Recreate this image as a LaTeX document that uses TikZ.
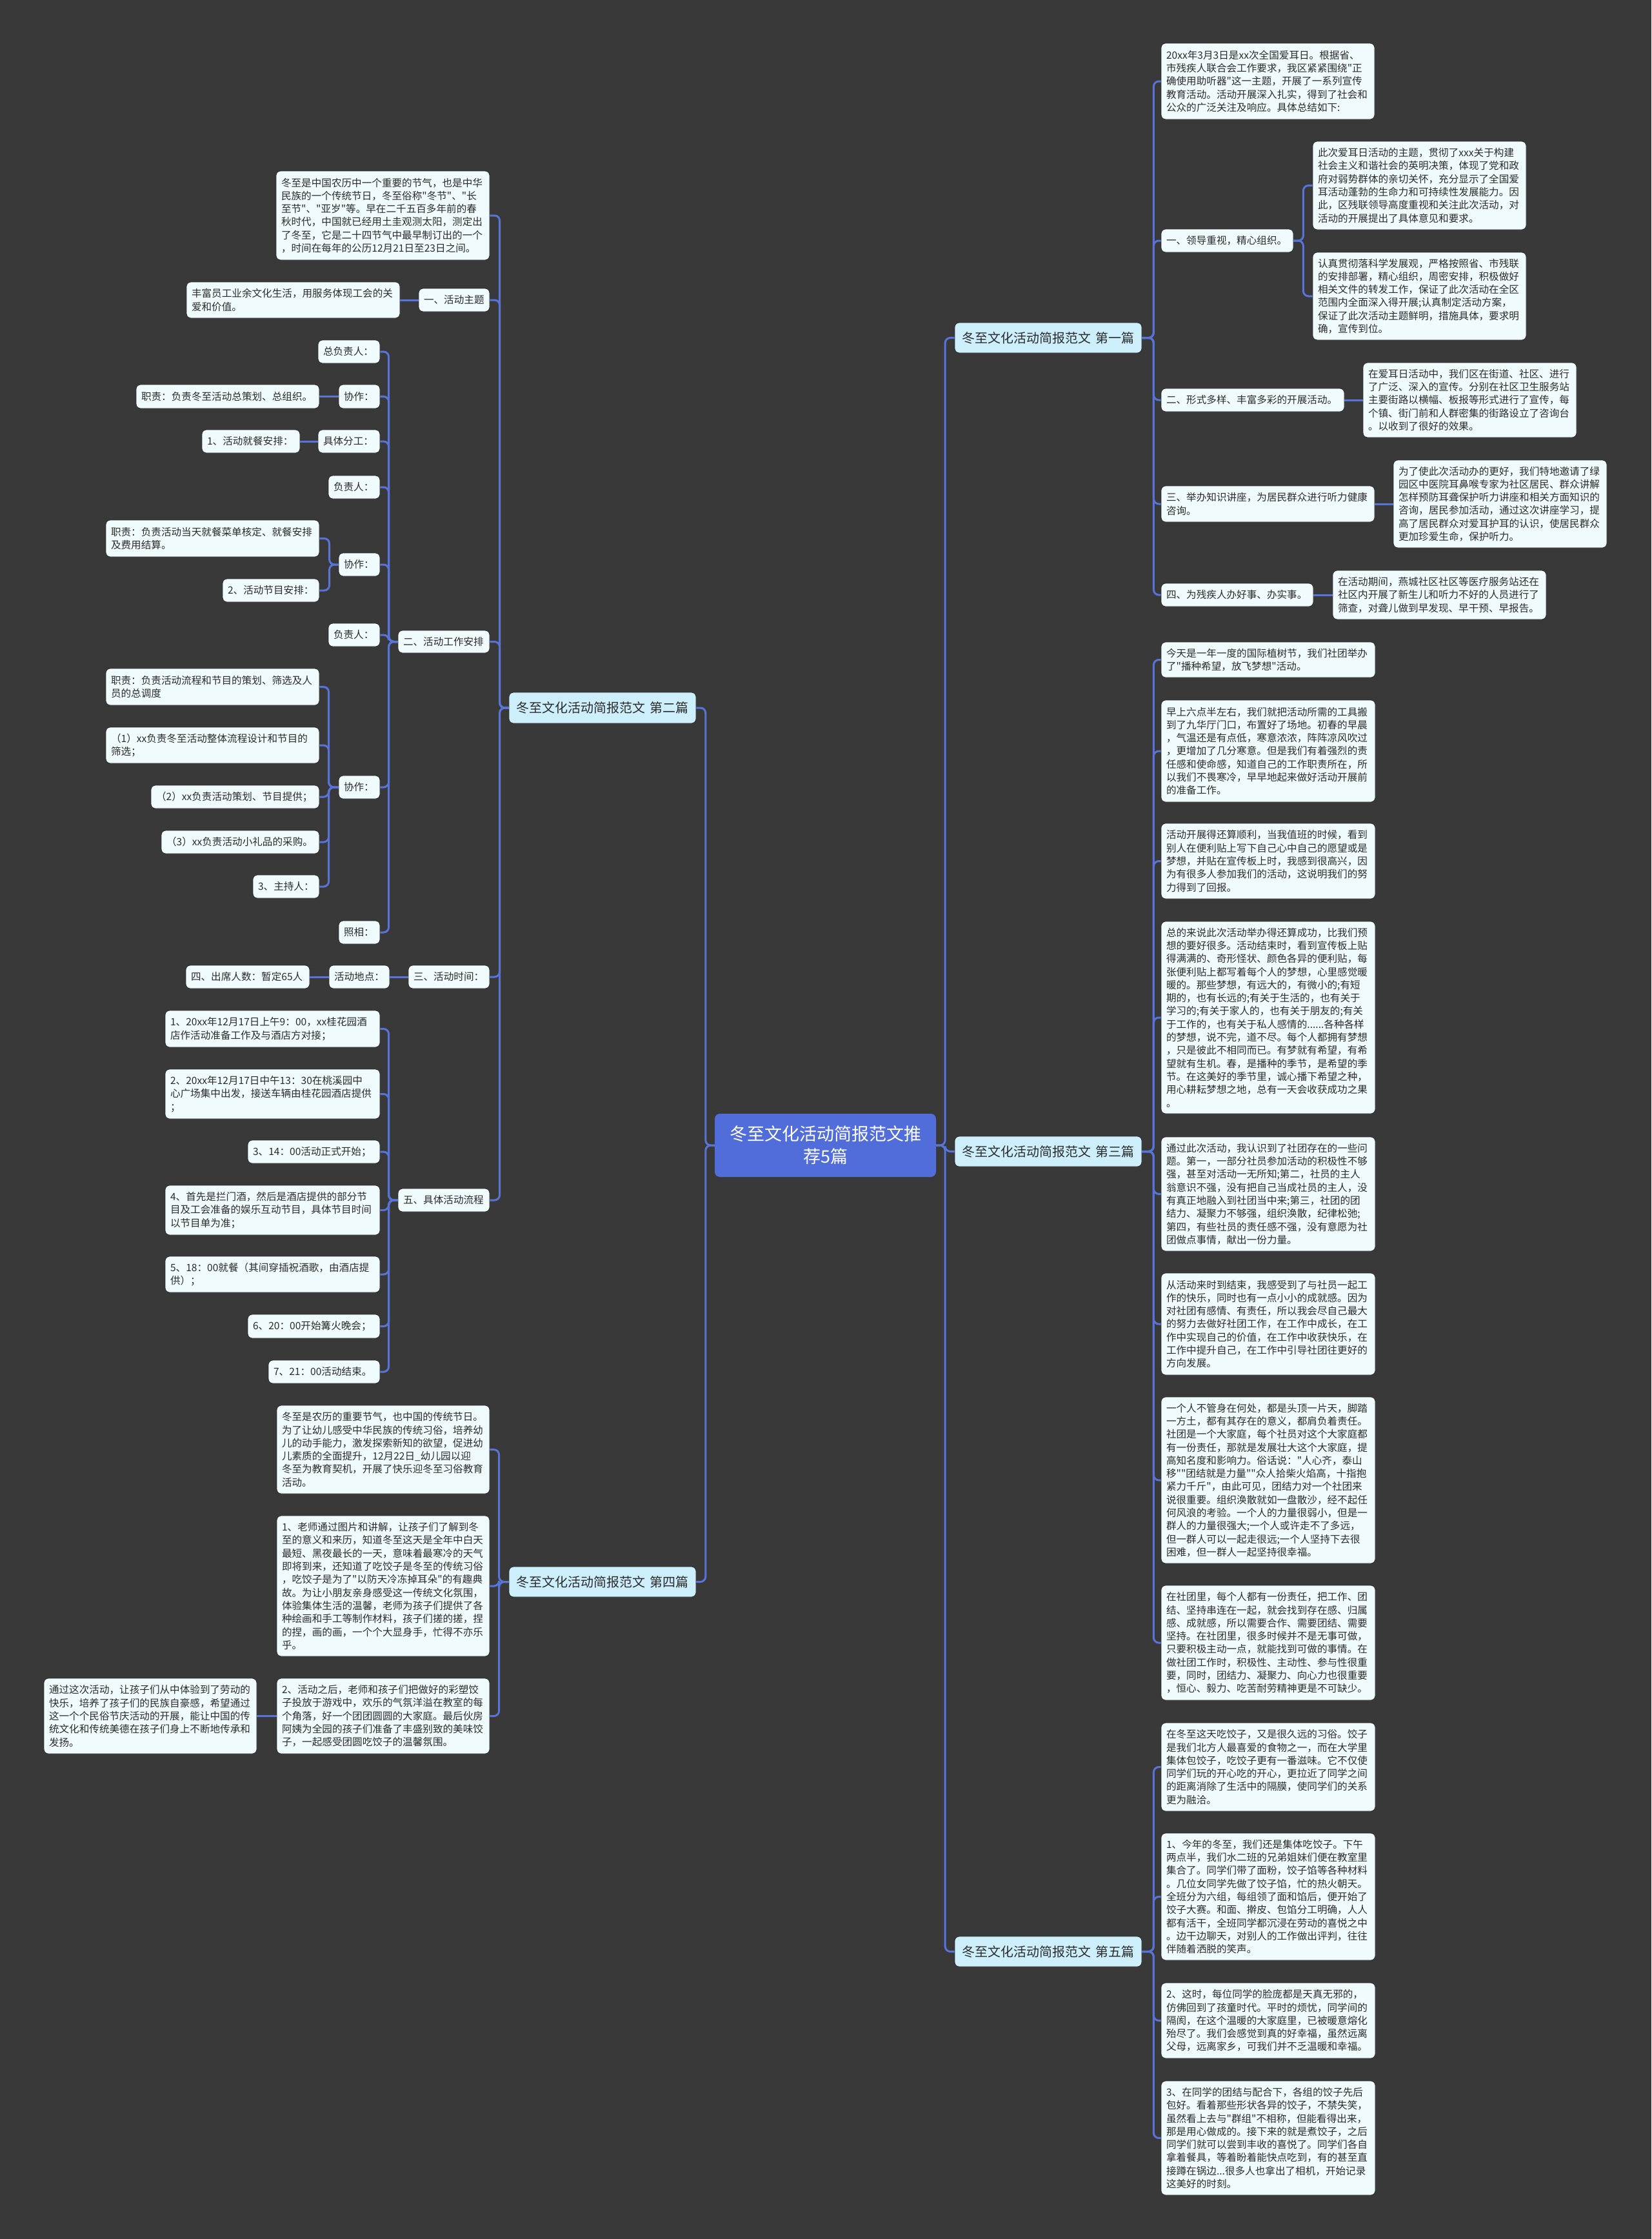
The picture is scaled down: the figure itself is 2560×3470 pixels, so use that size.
\documentclass[tikz,border=0pt]{standalone}
\usepackage{fontspec}
\setmainfont{Noto Sans CJK SC}[Ligatures=TeXOff]
\definecolor{bgc}{HTML}{3A3939}
\definecolor{nodefill}{HTML}{F0FBFE}
\definecolor{nodeedge}{HTML}{262626}
\definecolor{brfill}{HTML}{CDEFFB}
\definecolor{rootfill}{HTML}{516DDA}
\definecolor{linec}{HTML}{5874D8}
\definecolor{txt}{HTML}{2B2B2B}
\tikzset{
  box/.style={fill=nodefill, draw=nodeedge, line width=0.8pt, rounded corners=7pt, inner xsep=8pt, inner ysep=0pt, align=left, text=txt, font=\fontsize{15.6}{20.3}\selectfont},
  brn/.style={fill=brfill, draw=nodeedge, line width=0.8pt, rounded corners=7pt, inner xsep=8pt, inner ysep=0pt, align=center, text=txt, font=\fontsize{20}{24}\selectfont},
  rootn/.style={fill=rootfill, rounded corners=8pt, inner xsep=8pt, inner ysep=0pt, align=center, text=white, font=\fontsize{27}{35}\selectfont},
  conn/.style={draw=linec, line width=3pt, rounded corners=8pt},
}
\newcommand\mmbox[7][box]{%
  \pgfmathsetmacro\mmW{#4-#2}%
  \pgfmathsetmacro\mmH{#5-#3}%
  \pgfmathsetmacro\mmX{(#2+#4)/2}%
  \pgfmathsetmacro\mmY{(#3+#5)/2}%
  \pgfmathsetmacro\mmT{#4-#2-16}%
  \node[#1, minimum width=\mmW pt, minimum height=\mmH pt, text width=\mmT pt] (#6) at (\mmX,\mmY) {#7};}
\newcommand\cR[3][14]{\draw[conn] (#2.east) -- ++(#1,0) |- (#3.west);}
\newcommand\cL[3][14]{\draw[conn] (#2.west) -- ++(-#1,0) |- (#3.east);}
\newcommand\cS[2]{\draw[conn] (#1.east) -- (#2.west);}
\newcommand\cSL[2]{\draw[conn] (#1.west) -- (#2.east);}
\begin{document}
\begin{tikzpicture}[x=1pt,y=-1pt]
\fill[bgc] (0,0) rectangle (2560,3470);
\useasboundingbox (0,0) rectangle (2560,3470);
% root and branches
\mmbox[rootn]{1108}{1726}{1451}{1824}{root}{冬至文化活动简报范文推\\荐5篇}
\mmbox[brn]{1480}{500}{1770}{547}{b1}{冬至文化活动简报范文 第一篇}
\mmbox[brn]{789}{1073}{1079}{1121}{b2}{冬至文化活动简报范文 第二篇}
\mmbox[brn]{1480}{1761}{1770}{1808}{b3}{冬至文化活动简报范文 第三篇}
\mmbox[brn]{789}{2428}{1079}{2475}{b4}{冬至文化活动简报范文 第四篇}
\mmbox[brn]{1480}{3001}{1770}{3048}{b5}{冬至文化活动简报范文 第五篇}
% ---------- 第一篇
\mmbox{1800}{67}{2131}{185}{i0}{20xx年3月3日是xx次全国爱耳日。根据省、\\市残疾人联合会工作要求，我区紧紧围绕"正\\确使用助听器"这一主题，开展了一系列宣传\\教育活动。活动开展深入扎实，得到了社会和\\公众的广泛关注及响应。具体总结如下:}
\mmbox{1800}{355}{2005}{391}{p1}{一、领导重视，精心组织。}
\mmbox{2035}{219}{2366}{356}{a1}{此次爱耳日活动的主题，贯彻了xxx关于构建\\社会主义和谐社会的英明决策，体现了党和政\\府对弱势群体的亲切关怀，充分显示了全国爱\\耳活动蓬勃的生命力和可持续性发展能力。因\\此，区残联领导高度重视和关注此次活动，对\\活动的开展提出了具体意见和要求。}
\mmbox{2035}{391}{2366}{527}{a2}{认真贯彻落科学发展观，严格按照省、市残联\\的安排部署，精心组织，周密安排，积极做好\\相关文件的转发工作，保证了此次活动在全区\\范围内全面深入得开展;认真制定活动方案，\\保证了此次活动主题鲜明，措施具体，要求明\\确，宣传到位。}
\mmbox{1800}{602}{2084}{638}{p2}{二、形式多样、丰富多彩的开展活动。}
\mmbox{2113}{562}{2444}{678}{a3}{在爱耳日活动中，我们区在街道、社区、进行\\了广泛、深入的宣传。分别在社区卫生服务站\\主要街路以横幅、板报等形式进行了宣传，每\\个镇、街门前和人群密集的街路设立了咨询台\\。以收到了很好的效果。}
\mmbox{1800}{753}{2131}{809}{p3}{三、举办知识讲座，为居民群众进行听力健康\\咨询。}
\mmbox{2160}{713}{2491}{849}{a4}{为了使此次活动办的更好，我们特地邀请了绿\\园区中医院耳鼻喉专家为社区居民、群众讲解\\怎样预防耳聋保护听力讲座和相关方面知识的\\咨询，居民参加活动，通过这次讲座学习，提\\高了居民群众对爱耳护耳的认识，使居民群众\\更加珍爱生命，保护听力。}
\mmbox{1800}{904}{2036}{940}{p4}{四、为残疾人办好事、办实事。}
\mmbox{2066}{884}{2397}{960}{a5}{在活动期间，燕城社区社区等医疗服务站还在\\社区内开展了新生儿和听力不好的人员进行了\\筛查，对聋儿做到早发现、早干预、早报告。}
% ---------- 第三篇
\mmbox{1800}{995}{2132}{1050}{c1}{今天是一年一度的国际植树节，我们社团举办\\了"播种希望，放飞梦想"活动。}
\mmbox{1800}{1085}{2132}{1243}{c2}{早上六点半左右，我们就把活动所需的工具搬\\到了九华厅门口，布置好了场地。初春的早晨\\，气温还是有点低，寒意浓浓，阵阵凉风吹过\\，更增加了几分寒意。但是我们有着强烈的责\\任感和使命感，知道自己的工作职责所在，所\\以我们不畏寒冷，早早地起来做好活动开展前\\的准备工作。}
\mmbox{1800}{1276}{2132}{1393}{c3}{活动开展得还算顺利，当我值班的时候，看到\\别人在便利贴上写下自己心中自己的愿望或是\\梦想，并贴在宣传板上时，我感到很高兴，因\\为有很多人参加我们的活动，这说明我们的努\\力得到了回报。}
\mmbox{1800}{1428}{2132}{1726}{c4}{总的来说此次活动举办得还算成功，比我们预\\想的要好很多。活动结束时，看到宣传板上贴\\得满满的、奇形怪状、颜色各异的便利贴，每\\张便利贴上都写着每个人的梦想，心里感觉暖\\暖的。那些梦想，有远大的，有微小的;有短\\期的，也有长远的;有关于生活的，也有关于\\学习的;有关于家人的，也有关于朋友的;有关\\于工作的，也有关于私人感情的......各种各样\\的梦想，说不完，道不尽。每个人都拥有梦想\\，只是彼此不相同而已。有梦就有希望，有希\\望就有生机。春，是播种的季节，是希望的季\\节。在这美好的季节里，诚心播下希望之种，\\用心耕耘梦想之地，总有一天会收获成功之果\\。}
\mmbox{1800}{1762}{2132}{1939}{c5}{通过此次活动，我认识到了社团存在的一些问\\题。第一，一部分社员参加活动的积极性不够\\强，甚至对活动一无所知;第二，社员的主人\\翁意识不强，没有把自己当成社员的主人，没\\有真正地融入到社团当中来;第三，社团的团\\结力、凝聚力不够强，组织涣散，纪律松弛;\\第四，有些社员的责任感不强，没有意愿为社\\团做点事情，献出一份力量。}
\mmbox{1800}{1973}{2132}{2131}{c6}{从活动来时到结束，我感受到了与社员一起工\\作的快乐，同时也有一点小小的成就感。因为\\对社团有感情、有责任，所以我会尽自己最大\\的努力去做好社团工作，在工作中成长，在工\\作中实现自己的价值，在工作中收获快乐，在\\工作中提升自己，在工作中引导社团往更好的\\方向发展。}
\mmbox{1800}{2165}{2132}{2423}{c7}{一个人不管身在何处，都是头顶一片天，脚踏\\一方土，都有其存在的意义，都肩负着责任。\\社团是一个大家庭，每个社员对这个大家庭都\\有一份责任，那就是发展壮大这个大家庭，提\\高知名度和影响力。俗话说："人心齐，泰山\\移""团结就是力量""众人拾柴火焰高，十指抱\\紧力千斤"，由此可见，团结力对一个社团来\\说很重要。组织涣散就如一盘散沙，经不起任\\何风浪的考验。一个人的力量很弱小，但是一\\群人的力量很强大;一个人或许走不了多远，\\但一群人可以一起走很远;一个人坚持下去很\\困难，但一群人一起坚持很幸福。}
\mmbox{1800}{2457}{2132}{2635}{c8}{在社团里，每个人都有一份责任，把工作、团\\结、坚持串连在一起，就会找到存在感、归属\\感、成就感，所以需要合作、需要团结、需要\\坚持。在社团里，很多时候并不是无事可做，\\只要积极主动一点，就能找到可做的事情。在\\做社团工作时，积极性、主动性、参与性很重\\要，同时，团结力、凝聚力、向心力也很重要\\，恒心、毅力、吃苦耐劳精神更是不可缺少。}
% ---------- 第五篇
\mmbox{1800}{2670}{2132}{2807}{e1}{在冬至这天吃饺子，又是很久远的习俗。饺子\\是我们北方人最喜爱的食物之一，而在大学里\\集体包饺子，吃饺子更有一番滋味。它不仅使\\同学们玩的开心吃的开心，更拉近了同学之间\\的距离消除了生活中的隔膜，使同学们的关系\\更为融洽。}
\mmbox{1800}{2841}{2132}{3038}{e2}{1、今年的冬至，我们还是集体吃饺子。下午\\两点半，我们水二班的兄弟姐妹们便在教室里\\集合了。同学们带了面粉，饺子馅等各种材料\\。几位女同学先做了饺子馅，忙的热火朝天。\\全班分为六组，每组领了面和馅后，便开始了\\饺子大赛。和面、擀皮、包馅分工明确，人人\\都有活干，全班同学都沉浸在劳动的喜悦之中\\。边干边聊天，对别人的工作做出评判，往往\\伴随着洒脱的笑声。}
\mmbox{1800}{3073}{2132}{3190}{e3}{2、这时，每位同学的脸庞都是天真无邪的，\\仿佛回到了孩童时代。平时的烦忧，同学间的\\隔阂，在这个温暖的大家庭里，已被暖意熔化\\殆尽了。我们会感觉到真的好幸福，虽然远离\\父母，远离家乡，可我们并不乏温暖和幸福。}
\mmbox{1800}{3225}{2132}{3402}{e4}{3、在同学的团结与配合下，各组的饺子先后\\包好。看着那些形状各异的饺子，不禁失笑，\\虽然看上去与"群组"不相称，但能看得出来，\\那是用心做成的。接下来的就是煮饺子，之后\\同学们就可以尝到丰收的喜悦了。同学们各自\\拿着餐具，等着盼着能快点吃到，有的甚至直\\接蹲在锅边...很多人也拿出了相机，开始记录\\这美好的时刻。}
% ---------- 第二篇
\mmbox{428}{265}{759}{403}{g0}{冬至是中国农历中一个重要的节气，也是中华\\民族的一个传统节日，冬至俗称"冬节"、"长\\至节"、"亚岁"等。早在二千五百多年前的春\\秋时代，中国就已经用土圭观测太阳，测定出\\了冬至，它是二十四节气中最早制订出的一个\\，时间在每年的公历12月21日至23日之间。}
\mmbox{649}{447}{759}{483}{g1}{一、活动主题}
\mmbox{289}{437}{620}{493}{g1a}{丰富员工业余文化生活，用服务体现工会的关\\爱和价值。}
\mmbox{617}{977}{759}{1012}{g2}{二、活动工作安排}
\mmbox{493}{527}{589}{563}{h1}{总负责人：}
\mmbox{525}{596}{589}{633}{h2}{协作：}
\mmbox{211}{596}{495}{633}{h2a}{职责：负责冬至活动总策划、总组织。}
\mmbox{493}{666}{589}{702}{h3}{具体分工：}
\mmbox{313}{666}{465}{702}{h3a}{1、活动就餐安排：}
\mmbox{509}{737}{589}{773}{h4}{负责人：}
\mmbox{525}{857}{589}{893}{h5}{协作：}
\mmbox{164}{806}{495}{863}{h5a}{职责：负责活动当天就餐菜单核定、就餐安排\\及费用结算。}
\mmbox{345}{897}{495}{933}{h5b}{2、活动节目安排：}
\mmbox{509}{966}{589}{1002}{h6}{负责人：}
\mmbox{525}{1202}{589}{1238}{h7}{协作：}
\mmbox{164}{1036}{495}{1093}{h7a}{职责：负责活动流程和节目的策划、筛选及人\\员的总调度}
\mmbox{164}{1127}{495}{1183}{h7b}{（1）xx负责冬至活动整体流程设计和节目的\\筛选；}
\mmbox{234}{1217}{495}{1253}{h7c}{（2）xx负责活动策划、节目提供；}
\mmbox{250}{1287}{495}{1323}{h7d}{（3）xx负责活动小礼品的采购。}
\mmbox{392}{1356}{495}{1392}{h7e}{3、主持人：}
\mmbox{525}{1427}{589}{1463}{h8}{照相：}
\mmbox{633}{1496}{759}{1532}{g3}{三、活动时间：}
\mmbox{510}{1496}{604}{1532}{g3a}{活动地点：}
\mmbox{288}{1496}{480}{1532}{g3b}{四、出席人数：暂定65人}
\mmbox{617}{1842}{759}{1878}{g5}{五、具体活动流程}
\mmbox{256}{1566}{589}{1623}{f1}{1、20xx年12月17日上午9：00，xx桂花园酒\\店作活动准备工作及与酒店方对接；}
\mmbox{256}{1657}{589}{1734}{f2}{2、20xx年12月17日中午13：30在桃溪园中\\心广场集中出发，接送车辆由桂花园酒店提供\\；}
\mmbox{384}{1767}{589}{1803}{f3}{3、14：00活动正式开始；}
\mmbox{256}{1837}{589}{1914}{f4}{4、首先是拦门酒，然后是酒店提供的部分节\\目及工会准备的娱乐互动节目，具体节目时间\\以节目单为准；}
\mmbox{256}{1947}{589}{2003}{f5}{5、18：00就餐（其间穿插祝酒歌，由酒店提\\供）；}
\mmbox{384}{2037}{589}{2074}{f6}{6、20：00开始篝火晚会；}
\mmbox{416}{2108}{589}{2144}{f7}{7、21：00活动结束。}
% ---------- 第四篇
\mmbox{429}{2178}{759}{2315}{d1}{冬至是农历的重要节气，也中国的传统节日。\\为了让幼儿感受中华民族的传统习俗，培养幼\\儿的动手能力，激发探索新知的欲望，促进幼\\儿素质的全面提升，12月22日\_幼儿园以迎\\冬至为教育契机，开展了快乐迎冬至习俗教育\\活动。}
\mmbox{429}{2349}{759}{2567}{d2}{1、老师通过图片和讲解，让孩子们了解到冬\\至的意义和来历，知道冬至这天是全年中白天\\最短、黑夜最长的一天，意味着最寒冷的天气\\即将到来，还知道了吃饺子是冬至的传统习俗\\，吃饺子是为了"以防天冷冻掉耳朵"的有趣典\\故。为让小朋友亲身感受这一传统文化氛围，\\体验集体生活的温馨，老师为孩子们提供了各\\种绘画和手工等制作材料，孩子们搓的搓，捏\\的捏，画的画，一个个大显身手，忙得不亦乐\\乎。}
\mmbox{429}{2601}{759}{2718}{d3}{2、活动之后，老师和孩子们把做好的彩塑饺\\子投放于游戏中，欢乐的气氛洋溢在教室的每\\个角落，好一个团团圆圆的大家庭。最后伙房\\阿姨为全园的孩子们准备了丰盛别致的美味饺\\子，一起感受团圆吃饺子的温馨氛围。}
\mmbox{68}{2601}{398}{2718}{d3a}{通过这次活动，让孩子们从中体验到了劳动的\\快乐，培养了孩子们的民族自豪感，希望通过\\这一个个民俗节庆活动的开展，能让中国的传\\统文化和传统美德在孩子们身上不断地传承和\\发扬。}
% ---------- connectors
\cR{root}{b1}\cR{root}{b3}\cR{root}{b5}
\cL{root}{b2}\cL{root}{b4}
\cR[18]{b1}{i0}\cR[18]{b1}{p1}\cR[18]{b1}{p2}\cR[18]{b1}{p3}\cR[18]{b1}{p4}
\cR[15]{p1}{a1}\cR[15]{p1}{a2}
\cS{p2}{a3}\cS{p3}{a4}\cS{p4}{a5}
\cR[18]{b3}{c1}\cR[18]{b3}{c2}\cR[18]{b3}{c3}\cR[18]{b3}{c4}
\cR[18]{b3}{c5}\cR[18]{b3}{c6}\cR[18]{b3}{c7}\cR[18]{b3}{c8}
\cR[18]{b5}{e1}\cR[18]{b5}{e2}\cR[18]{b5}{e3}\cR[18]{b5}{e4}
\cL{b2}{g0}\cL{b2}{g1}\cL{b2}{g2}\cL{b2}{g3}\cL{b2}{g5}
\cSL{g1}{g1a}
\cL{g2}{h1}\cL{g2}{h2}\cL{g2}{h3}\cL{g2}{h4}\cL{g2}{h5}\cL{g2}{h6}\cL{g2}{h7}\cL{g2}{h8}
\cSL{h2}{h2a}\cSL{h3}{h3a}
\cL{h5}{h5a}\cL{h5}{h5b}
\cL[15]{h7}{h7a}\cL[15]{h7}{h7b}\cL[15]{h7}{h7c}\cL[15]{h7}{h7d}\cL[15]{h7}{h7e}
\cSL{g3}{g3a}\cSL{g3a}{g3b}
\cL{g5}{f1}\cL{g5}{f2}\cL{g5}{f3}\cL{g5}{f4}\cL{g5}{f5}\cL{g5}{f6}\cL{g5}{f7}
\cL[15]{b4}{d1}\cL[15]{b4}{d2}\cL[15]{b4}{d3}
\cSL{d3}{d3a}
\end{tikzpicture}
\end{document}
